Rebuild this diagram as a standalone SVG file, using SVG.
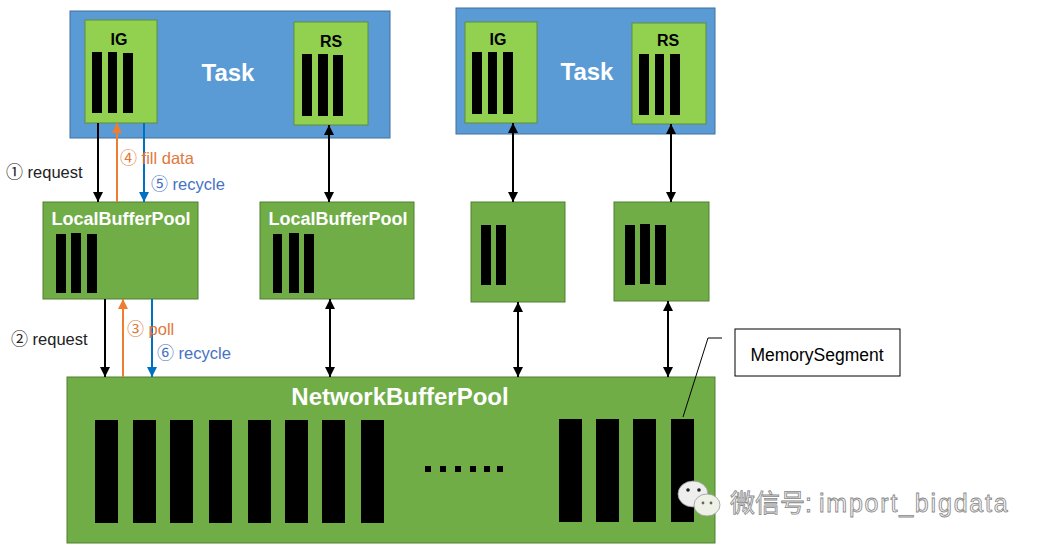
<svg xmlns="http://www.w3.org/2000/svg" width="1045" height="550" viewBox="0 0 1045 550">
<defs>
<style>
.task{fill:#5b9bd5;stroke:#41719c;stroke-width:1}
.lg{fill:#92d050;stroke:#5f8f36;stroke-width:1}
.dg{fill:#70ad47;stroke:#507e32;stroke-width:1}
.bar{fill:#000}
.tl{font-family:"Liberation Sans",Arial,sans-serif;font-weight:bold;fill:#fff;text-anchor:middle}
.nl{font-family:"Liberation Sans",Arial,sans-serif;font-weight:bold;fill:#000;text-anchor:middle;font-size:16px}
.lab{font-family:"Liberation Sans","Noto Sans CJK SC",sans-serif;font-size:16.5px}
.cd{font-family:"Noto Sans CJK SC",sans-serif;font-size:17px}
.k{stroke:#000;stroke-width:2;fill:none}
.o{stroke:#ed7d31;stroke-width:2;fill:none}
.b{stroke:#0070c0;stroke-width:2;fill:none}
</style>
<marker id="ak" viewBox="0 0 10 10" refX="10" refY="5" markerWidth="5" markerHeight="5" orient="auto-start-reverse" markerUnits="strokeWidth"><path d="M0,0L10,5L0,10z" fill="#000"/></marker>
<marker id="ao" viewBox="0 0 10 10" refX="10" refY="5" markerWidth="5" markerHeight="5" orient="auto-start-reverse" markerUnits="strokeWidth"><path d="M0,0L10,5L0,10z" fill="#ed7d31"/></marker>
<marker id="ab" viewBox="0 0 10 10" refX="10" refY="5" markerWidth="5" markerHeight="5" orient="auto-start-reverse" markerUnits="strokeWidth"><path d="M0,0L10,5L0,10z" fill="#0070c0"/></marker>
</defs>
<rect width="1045" height="550" fill="#fff"/>

<g id="task1">
<rect class="task" x="70" y="11" width="320" height="127"/>
<text class="tl" x="228" y="81" font-size="24">Task</text>
</g>
<g id="ig1">
<rect class="lg" x="85" y="20" width="72" height="103"/>
<text class="nl" x="119" y="45">IG</text>
<rect class="bar" x="92" y="52" width="10" height="61"/>
<rect class="bar" x="108" y="52" width="9" height="61"/>
<rect class="bar" x="123" y="53" width="10" height="60"/>
</g>
<g id="rs1">
<rect class="lg" x="294" y="22" width="74" height="103"/>
<text class="nl" x="331" y="47">RS</text>
<rect class="bar" x="302" y="54" width="10" height="62"/>
<rect class="bar" x="318" y="54" width="10" height="62"/>
<rect class="bar" x="333" y="55" width="10" height="61"/>
</g>

<g id="task2">
<rect class="task" x="456" y="8" width="259" height="126"/>
<text class="tl" x="587" y="80" font-size="24">Task</text>
</g>
<g id="ig2">
<rect class="lg" x="465" y="22" width="72" height="101"/>
<text class="nl" x="498" y="45">IG</text>
<rect class="bar" x="472" y="52" width="10" height="62"/>
<rect class="bar" x="488" y="52" width="9" height="62"/>
<rect class="bar" x="503" y="52" width="10" height="62"/>
</g>
<g id="rs2">
<rect class="lg" x="632" y="23" width="74" height="101"/>
<text class="nl" x="668" y="46">RS</text>
<rect class="bar" x="639" y="54" width="10" height="61"/>
<rect class="bar" x="655" y="54" width="9" height="61"/>
<rect class="bar" x="670" y="54" width="10" height="61"/>
</g>

<g id="lbp1">
<rect class="dg" x="43" y="202" width="155" height="97"/>
<text class="tl" x="121" y="225" font-size="18">LocalBufferPool</text>
<rect class="bar" x="56" y="234" width="10" height="59"/>
<rect class="bar" x="71" y="233" width="10" height="60"/>
<rect class="bar" x="87" y="234" width="10" height="59"/>
</g>
<g id="lbp2">
<rect class="dg" x="260" y="202" width="154" height="97"/>
<text class="tl" x="338" y="225" font-size="18">LocalBufferPool</text>
<rect class="bar" x="273" y="234" width="9" height="59"/>
<rect class="bar" x="289" y="233" width="10" height="60"/>
<rect class="bar" x="304" y="234" width="10" height="59"/>
</g>
<g id="lbp3">
<rect class="dg" x="471" y="202" width="94" height="100"/>
<rect class="bar" x="481" y="225" width="10" height="60"/>
<rect class="bar" x="496" y="225" width="10" height="60"/>
</g>
<g id="lbp4">
<rect class="dg" x="614" y="202" width="95" height="99"/>
<rect class="bar" x="625" y="225" width="10" height="60"/>
<rect class="bar" x="640" y="224" width="10" height="60"/>
<rect class="bar" x="655" y="225" width="11" height="60"/>
</g>

<g id="nbp">
<rect class="dg" x="67" y="377" width="648" height="166"/>
<text class="tl" x="400" y="405" font-size="24">NetworkBufferPool</text>
<rect class="bar" x="95" y="420" width="23" height="103"/>
<rect class="bar" x="133" y="420" width="23" height="103"/>
<rect class="bar" x="170" y="420" width="23" height="103"/>
<rect class="bar" x="209" y="420" width="23" height="103"/>
<rect class="bar" x="248" y="420" width="23" height="103"/>
<rect class="bar" x="285" y="420" width="23" height="103"/>
<rect class="bar" x="322" y="420" width="23" height="103"/>
<rect class="bar" x="361" y="420" width="23" height="103"/>
<rect class="bar" x="425" y="466" width="6" height="6"/>
<rect class="bar" x="440" y="466" width="6" height="6"/>
<rect class="bar" x="455" y="466" width="6" height="6"/>
<rect class="bar" x="470" y="466" width="6" height="6"/>
<rect class="bar" x="484" y="466" width="6" height="6"/>
<rect class="bar" x="497" y="466" width="6" height="6"/>
<rect class="bar" x="559" y="419" width="23" height="103"/>
<rect class="bar" x="596" y="419" width="23" height="103"/>
<rect class="bar" x="633" y="419" width="23" height="103"/>
<rect class="bar" x="671" y="419" width="23" height="103"/>
</g>

<g id="memseg">
<rect x="735" y="329" width="165" height="47" fill="#fff" stroke="#000" stroke-width="1"/>
<text x="817" y="361" font-family="'Liberation Sans',Arial,sans-serif" font-size="17.5" text-anchor="middle" fill="#000">MemorySegment</text>
</g>

<g id="connectors">
<line class="k" x1="98" y1="123" x2="98" y2="202" marker-end="url(#ak)"/>
<line class="o" x1="117" y1="202" x2="117" y2="123" marker-end="url(#ao)"/>
<line class="b" x1="144" y1="123" x2="144" y2="202" marker-end="url(#ab)"/>
<line class="k" x1="105" y1="299" x2="105" y2="377" marker-end="url(#ak)"/>
<line class="o" x1="123" y1="377" x2="123" y2="299" marker-end="url(#ao)"/>
<line class="b" x1="152" y1="299" x2="152" y2="377" marker-end="url(#ab)"/>
<line class="k" x1="329" y1="125" x2="329" y2="202" marker-start="url(#ak)" marker-end="url(#ak)"/>
<line class="k" x1="330" y1="299" x2="330" y2="377" marker-start="url(#ak)" marker-end="url(#ak)"/>
<line class="k" x1="513" y1="123" x2="513" y2="202" marker-start="url(#ak)" marker-end="url(#ak)"/>
<line class="k" x1="518" y1="302" x2="518" y2="377" marker-start="url(#ak)" marker-end="url(#ak)"/>
<line class="k" x1="671" y1="124" x2="671" y2="202" marker-start="url(#ak)" marker-end="url(#ak)"/>
<line class="k" x1="668" y1="301" x2="668" y2="377" marker-start="url(#ak)" marker-end="url(#ak)"/>
<polyline points="722,338 708,338 683,417" fill="none" stroke="#000" stroke-width="1"/>
<text class="lab" x="6" y="178" fill="#222"><tspan class="cd">①</tspan> request</text>
<text class="lab" x="120" y="164" fill="#e0783a"><tspan class="cd">④</tspan> fill data</text>
<text class="lab" x="151" y="190" fill="#4472c4"><tspan class="cd">⑤</tspan> recycle</text>
<text class="lab" x="11" y="345" fill="#222"><tspan class="cd">②</tspan> request</text>
<text class="lab" x="127" y="335" fill="#e0783a"><tspan class="cd">③</tspan> poll</text>
<text class="lab" x="157" y="359" fill="#4472c4"><tspan class="cd">⑥</tspan> recycle</text>
</g>

<g id="watermark">
<ellipse cx="693" cy="494" rx="15" ry="13" fill="#eee" stroke="#999" stroke-width="0.8"/>
<circle cx="688" cy="490" r="1.8" fill="#222"/>
<circle cx="699" cy="490" r="1.8" fill="#222"/>
<ellipse cx="707" cy="505" rx="13" ry="11" fill="#eef2e6" stroke="#999" stroke-width="0.8"/>
<circle cx="703" cy="503" r="1.4" fill="#666"/>
<circle cx="711" cy="503" r="1.4" fill="#666"/>
<text x="730" y="512" font-family="'Liberation Sans','Noto Sans CJK SC',sans-serif" font-size="25" fill="#f4f4f4" stroke="#888" stroke-width="0.8">微信号: <tspan letter-spacing="1.8">import_bigdata</tspan></text>
</g>
</svg>
